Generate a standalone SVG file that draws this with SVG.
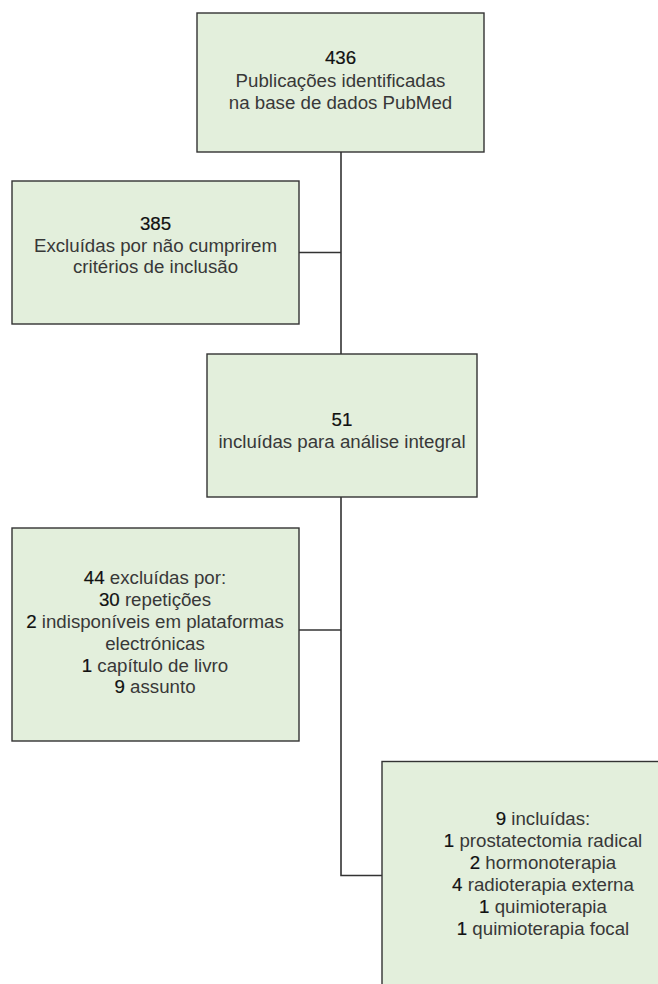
<svg xmlns="http://www.w3.org/2000/svg" width="658" height="984" viewBox="0 0 658 984">
<style>
.box{fill:#e3efdc;stroke:#333;stroke-width:1.4}
.t{font-family:"Liberation Sans",Arial,Helvetica,sans-serif;font-size:18.7px;fill:#383838;text-anchor:middle}
.n{fill:#111;stroke:#111;stroke-width:0.2}
.c{fill:none;stroke:#333;stroke-width:1.6}
</style>
<rect width="658" height="984" fill="#fff"/>
<g id="connectors">
<path class="c" d="M341 152V354"/>
<path class="c" d="M299 252.5H341"/>
<path class="c" d="M341 497V875.5H382"/>
<path class="c" d="M299 630H341"/>
</g>
<g id="node-436">
<rect class="box" x="197" y="13" width="287" height="139"/>
<text class="t" x="340.5" y="64"><tspan class="n">436</tspan></text>
<text class="t" x="340.5" y="87">Publicações identificadas</text>
<text class="t" x="340.5" y="108.5">na base de dados PubMed</text>
</g>
<g id="node-385">
<rect class="box" x="12" y="181" width="287" height="143"/>
<text class="t" x="155.5" y="230"><tspan class="n">385</tspan></text>
<text class="t" x="155.5" y="251.5">Excluídas por não cumprirem</text>
<text class="t" x="155.5" y="272.5">critérios de inclusão</text>
</g>
<g id="node-51">
<rect class="box" x="207" y="354" width="270" height="143"/>
<text class="t" x="342" y="426"><tspan class="n">51</tspan></text>
<text class="t" x="342" y="448">incluídas para análise integral</text>
</g>
<g id="node-44">
<rect class="box" x="12" y="528" width="287" height="213"/>
<text class="t" x="155" y="584.3"><tspan class="n">44</tspan> excluídas por:</text>
<text class="t" x="155" y="606.1"><tspan class="n">30</tspan> repetições</text>
<text class="t" x="155" y="627.9"><tspan class="n">2</tspan> indisponíveis em plataformas</text>
<text class="t" x="155" y="649.7">electrónicas</text>
<text class="t" x="155" y="671.5"><tspan class="n">1</tspan> capítulo de livro</text>
<text class="t" x="155" y="693.3"><tspan class="n">9</tspan> assunto</text>
</g>
<g id="node-9">
<rect class="box" x="382" y="761.5" width="330" height="240"/>
<text class="t" x="543" y="825"><tspan class="n">9</tspan> incluídas:</text>
<text class="t" x="543" y="847"><tspan class="n">1</tspan> prostatectomia radical</text>
<text class="t" x="543" y="869"><tspan class="n">2</tspan> hormonoterapia</text>
<text class="t" x="543" y="891"><tspan class="n">4</tspan> radioterapia externa</text>
<text class="t" x="543" y="913"><tspan class="n">1</tspan> quimioterapia</text>
<text class="t" x="543" y="935"><tspan class="n">1</tspan> quimioterapia focal</text>
</g>
</svg>
